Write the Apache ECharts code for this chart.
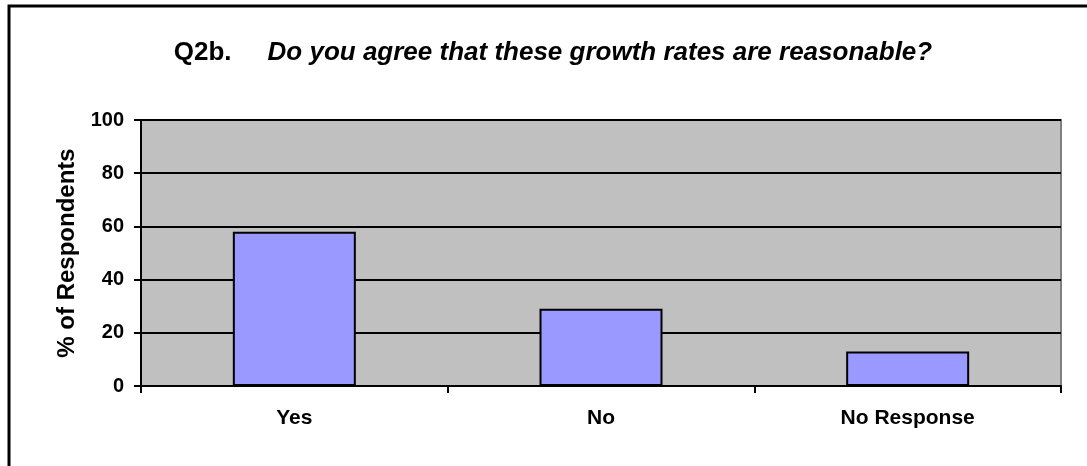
<!DOCTYPE html>
<html>
<head>
<meta charset="utf-8">
<script src="https://cdn.jsdelivr.net/npm/echarts@6/dist/echarts.min.js"></script>
<style>
  html, body { margin: 0; padding: 0; background: #fff; }
  #chart { width: 1087px; height: 466px; }
</style>
</head>
<body>
<div id="chart"></div>
<script>
// Survey answers and their share of respondents (%)
const categories = ['Yes', 'No', 'No Response'];
const percentages = [58, 29, 13];
const yTicks = [0, 20, 40, 60, 80, 100];

const chart = echarts.init(document.getElementById('chart'), null, { renderer: 'canvas' });
const FONT = 'Liberation Sans, Arial, sans-serif';

chart.setOption({
  backgroundColor: '#ffffff',
  animation: false,
  title: {
    text: '{a|Q2b.}{gap|}{b|Do you agree that these growth rates are reasonable?}',
    left: 548,
    top: 35,
    textAlign: 'center',
    textStyle: {
      rich: {
        a: { fontFamily: FONT, fontSize: 26, fontWeight: 'bold', color: '#000' },
        gap: { width: 36 },
        b: { fontFamily: FONT, fontSize: 26, fontWeight: 'bold', fontStyle: 'italic', color: '#000' }
      }
    }
  },
  graphic: [
    {
      type: 'rect',
      shape: { x: 9, y: 6, width: 1100, height: 500 },
      style: { fill: 'none', stroke: '#000', lineWidth: 3 },
      silent: true
    }
  ],
  grid: {
    left: 141,
    right: 26,
    top: 120,
    bottom: 80,
    show: true,
    backgroundColor: '#c0c0c0',
    borderColor: '#808080',
    borderWidth: 2
  },
  xAxis: {
    type: 'category',
    data: categories,
    axisLine: { show: true, lineStyle: { color: '#000', width: 2 } },
    axisTick: { show: true, alignWithLabel: false, length: 7, lineStyle: { color: '#000', width: 2 } },
    axisLabel: {
      margin: 22,
      fontFamily: FONT,
      fontSize: 21,
      fontWeight: 'bold',
      color: '#000'
    }
  },
  yAxis: {
    type: 'value',
    min: yTicks[0],
    max: yTicks[yTicks.length - 1],
    interval: yTicks[1] - yTicks[0],
    name: '% of Respondents',
    nameLocation: 'middle',
    nameGap: 62,
    nameTextStyle: {
      fontFamily: FONT,
      fontSize: 24,
      fontWeight: 'bold',
      color: '#000'
    },
    axisLine: { show: true, lineStyle: { color: '#000', width: 2 } },
    axisTick: { show: true, length: 7, lineStyle: { color: '#000', width: 2 } },
    axisLabel: {
      margin: 17,
      fontFamily: FONT,
      fontSize: 20,
      fontWeight: 'bold',
      color: '#000'
    },
    splitLine: { show: true, lineStyle: { color: '#000', width: 2 } }
  },
  series: [
    {
      type: 'bar',
      data: percentages,
      barWidth: 123,
      itemStyle: {
        color: '#9999ff',
        borderColor: '#000',
        borderWidth: 2
      },
      z: 3
    }
  ]
});
</script>
</body>
</html>
